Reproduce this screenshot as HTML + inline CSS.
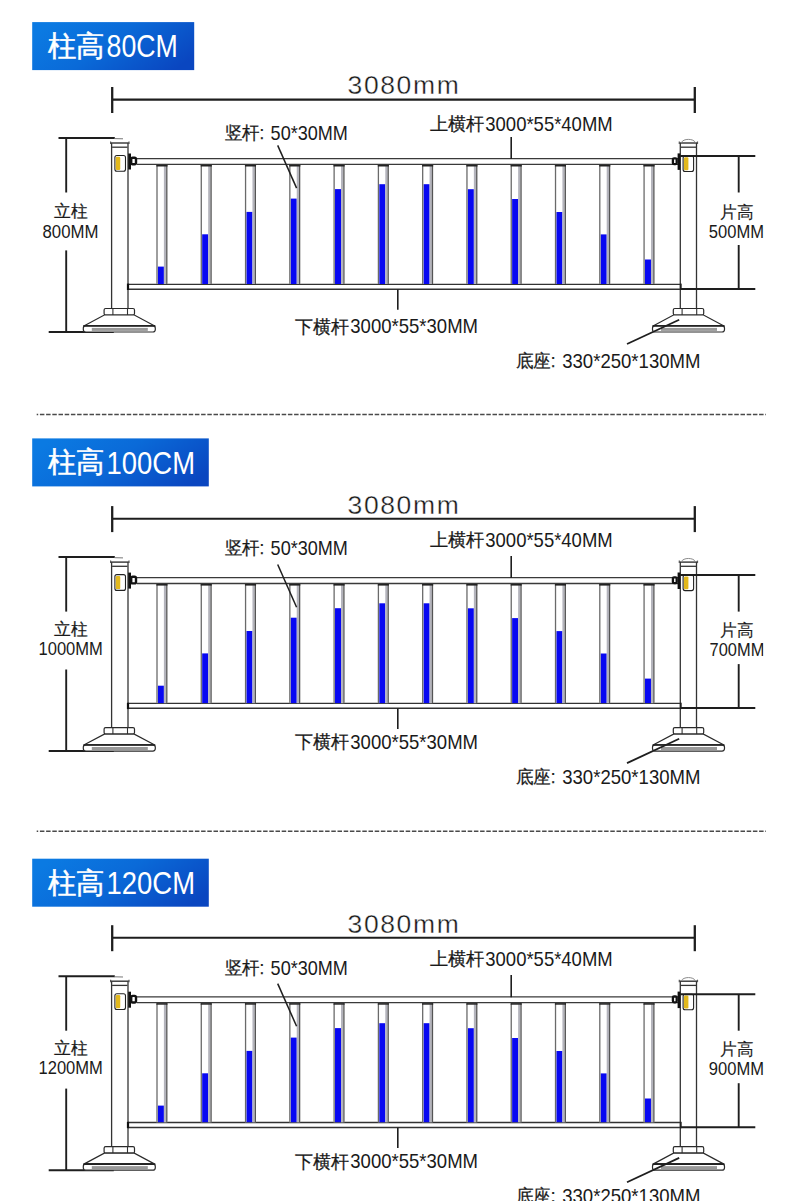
<!DOCTYPE html>
<html><head><meta charset="utf-8"><title>fence</title>
<style>
html,body{margin:0;padding:0;background:#fff;}
body{width:790px;height:1201px;overflow:hidden;font-family:"Liberation Sans",sans-serif;}
svg{display:block;font-family:"Liberation Sans",sans-serif;}
</style></head><body>
<svg width="790" height="1201" viewBox="0 0 790 1201">
<defs><linearGradient id="tg" x1="0" y1="0.3" x2="1" y2="0.7">
<stop offset="0" stop-color="#0b7ae2"/><stop offset="0.45" stop-color="#0a6ad8"/><stop offset="1" stop-color="#0a46c0"/>
</linearGradient></defs>
<rect width="790" height="1201" fill="#fff"/>
<g transform="translate(0 0)">
<line x1="112" y1="99.6" x2="695" y2="99.6" stroke="#1e1e1e" stroke-width="2.1"/>
<line x1="112.2" y1="87" x2="112.2" y2="113" stroke="#1e1e1e" stroke-width="2.3"/>
<line x1="694.8" y1="87" x2="694.8" y2="113" stroke="#1e1e1e" stroke-width="2.3"/>
<text transform="translate(347.6 94.4) scale(1 1)" font-size="26.5" letter-spacing="1.6" fill="#1a1a1a" stroke="#fff" stroke-width="0.35">3080mm</text>
<line x1="58.5" y1="138" x2="114.8" y2="138" stroke="#1e1e1e" stroke-width="2"/>
<line x1="114.5" y1="138.6" x2="123" y2="138.8" stroke="#777" stroke-width="1"/>
<line x1="66.2" y1="138" x2="66.2" y2="192.5" stroke="#1e1e1e" stroke-width="1.9"/>
<line x1="66.2" y1="250.4" x2="66.2" y2="332" stroke="#1e1e1e" stroke-width="1.9"/>
<line x1="48.7" y1="332" x2="113.8" y2="332" stroke="#1e1e1e" stroke-width="2"/>
<rect x="130" y="158.6" width="551" height="5.9" fill="#fff" stroke="none" stroke-width="1"/>
<line x1="137" y1="158.6" x2="680.5" y2="158.6" stroke="#3a3a3a" stroke-width="1.3"/>
<line x1="137" y1="164.4" x2="680.5" y2="164.4" stroke="#3a3a3a" stroke-width="1.3"/>
<line x1="128" y1="284.3" x2="680.5" y2="284.3" stroke="#333" stroke-width="1.3"/>
<line x1="128" y1="289.2" x2="680.5" y2="289.2" stroke="#333" stroke-width="1.5"/>
<rect x="156.4" y="165" width="11" height="119" fill="#fff" stroke="none" stroke-width="1"/>
<rect x="157.9" y="266.6" width="6" height="17.4" fill="#0808f2" stroke="none" stroke-width="1"/>
<rect x="163.9" y="166" width="2.3" height="118" fill="#b4b4bc" stroke="none" stroke-width="1"/>
<line x1="157" y1="165" x2="157" y2="284" stroke="#6a6a6a" stroke-width="1.3"/>
<line x1="166.8" y1="165" x2="166.8" y2="284" stroke="#555" stroke-width="1.3"/>
<line x1="156.4" y1="165.7" x2="167.5" y2="165.7" stroke="#222" stroke-width="1.6"/>
<rect x="200.68" y="165" width="11" height="119" fill="#fff" stroke="none" stroke-width="1"/>
<rect x="202.18" y="234.3" width="6" height="49.7" fill="#0808f2" stroke="none" stroke-width="1"/>
<rect x="208.18" y="166" width="2.3" height="118" fill="#b4b4bc" stroke="none" stroke-width="1"/>
<line x1="201.28" y1="165" x2="201.28" y2="284" stroke="#6a6a6a" stroke-width="1.3"/>
<line x1="211.08" y1="165" x2="211.08" y2="284" stroke="#555" stroke-width="1.3"/>
<line x1="200.68" y1="165.7" x2="211.78" y2="165.7" stroke="#222" stroke-width="1.6"/>
<rect x="244.96" y="165" width="11" height="119" fill="#fff" stroke="none" stroke-width="1"/>
<rect x="246.46" y="211.9" width="6" height="72.1" fill="#0808f2" stroke="none" stroke-width="1"/>
<rect x="252.46" y="166" width="2.3" height="118" fill="#b4b4bc" stroke="none" stroke-width="1"/>
<line x1="245.56" y1="165" x2="245.56" y2="284" stroke="#6a6a6a" stroke-width="1.3"/>
<line x1="255.36" y1="165" x2="255.36" y2="284" stroke="#555" stroke-width="1.3"/>
<line x1="244.96" y1="165.7" x2="256.06" y2="165.7" stroke="#222" stroke-width="1.6"/>
<rect x="289.24" y="165" width="11" height="119" fill="#fff" stroke="none" stroke-width="1"/>
<rect x="290.74" y="198.6" width="6" height="85.4" fill="#0808f2" stroke="none" stroke-width="1"/>
<rect x="296.74" y="166" width="2.3" height="118" fill="#b4b4bc" stroke="none" stroke-width="1"/>
<line x1="289.84" y1="165" x2="289.84" y2="284" stroke="#6a6a6a" stroke-width="1.3"/>
<line x1="299.64" y1="165" x2="299.64" y2="284" stroke="#555" stroke-width="1.3"/>
<line x1="289.24" y1="165.7" x2="300.34" y2="165.7" stroke="#222" stroke-width="1.6"/>
<rect x="333.52" y="165" width="11" height="119" fill="#fff" stroke="none" stroke-width="1"/>
<rect x="335.02" y="189.1" width="6" height="94.9" fill="#0808f2" stroke="none" stroke-width="1"/>
<rect x="341.02" y="166" width="2.3" height="118" fill="#b4b4bc" stroke="none" stroke-width="1"/>
<line x1="334.12" y1="165" x2="334.12" y2="284" stroke="#6a6a6a" stroke-width="1.3"/>
<line x1="343.92" y1="165" x2="343.92" y2="284" stroke="#555" stroke-width="1.3"/>
<line x1="333.52" y1="165.7" x2="344.62" y2="165.7" stroke="#222" stroke-width="1.6"/>
<rect x="377.8" y="165" width="11" height="119" fill="#fff" stroke="none" stroke-width="1"/>
<rect x="379.3" y="184.2" width="6" height="99.8" fill="#0808f2" stroke="none" stroke-width="1"/>
<rect x="385.3" y="166" width="2.3" height="118" fill="#b4b4bc" stroke="none" stroke-width="1"/>
<line x1="378.4" y1="165" x2="378.4" y2="284" stroke="#6a6a6a" stroke-width="1.3"/>
<line x1="388.2" y1="165" x2="388.2" y2="284" stroke="#555" stroke-width="1.3"/>
<line x1="377.8" y1="165.7" x2="388.9" y2="165.7" stroke="#222" stroke-width="1.6"/>
<rect x="422.08" y="165" width="11" height="119" fill="#fff" stroke="none" stroke-width="1"/>
<rect x="423.58" y="184.2" width="6" height="99.8" fill="#0808f2" stroke="none" stroke-width="1"/>
<rect x="429.58" y="166" width="2.3" height="118" fill="#b4b4bc" stroke="none" stroke-width="1"/>
<line x1="422.68" y1="165" x2="422.68" y2="284" stroke="#6a6a6a" stroke-width="1.3"/>
<line x1="432.48" y1="165" x2="432.48" y2="284" stroke="#555" stroke-width="1.3"/>
<line x1="422.08" y1="165.7" x2="433.18" y2="165.7" stroke="#222" stroke-width="1.6"/>
<rect x="466.36" y="165" width="11" height="119" fill="#fff" stroke="none" stroke-width="1"/>
<rect x="467.86" y="189.2" width="6" height="94.8" fill="#0808f2" stroke="none" stroke-width="1"/>
<rect x="473.86" y="166" width="2.3" height="118" fill="#b4b4bc" stroke="none" stroke-width="1"/>
<line x1="466.96" y1="165" x2="466.96" y2="284" stroke="#6a6a6a" stroke-width="1.3"/>
<line x1="476.76" y1="165" x2="476.76" y2="284" stroke="#555" stroke-width="1.3"/>
<line x1="466.36" y1="165.7" x2="477.46" y2="165.7" stroke="#222" stroke-width="1.6"/>
<rect x="510.64" y="165" width="11" height="119" fill="#fff" stroke="none" stroke-width="1"/>
<rect x="512.14" y="199" width="6" height="85" fill="#0808f2" stroke="none" stroke-width="1"/>
<rect x="518.14" y="166" width="2.3" height="118" fill="#b4b4bc" stroke="none" stroke-width="1"/>
<line x1="511.24" y1="165" x2="511.24" y2="284" stroke="#6a6a6a" stroke-width="1.3"/>
<line x1="521.04" y1="165" x2="521.04" y2="284" stroke="#555" stroke-width="1.3"/>
<line x1="510.64" y1="165.7" x2="521.74" y2="165.7" stroke="#222" stroke-width="1.6"/>
<rect x="554.92" y="165" width="11" height="119" fill="#fff" stroke="none" stroke-width="1"/>
<rect x="556.42" y="212" width="6" height="72" fill="#0808f2" stroke="none" stroke-width="1"/>
<rect x="562.42" y="166" width="2.3" height="118" fill="#b4b4bc" stroke="none" stroke-width="1"/>
<line x1="555.52" y1="165" x2="555.52" y2="284" stroke="#6a6a6a" stroke-width="1.3"/>
<line x1="565.32" y1="165" x2="565.32" y2="284" stroke="#555" stroke-width="1.3"/>
<line x1="554.92" y1="165.7" x2="566.02" y2="165.7" stroke="#222" stroke-width="1.6"/>
<rect x="599.2" y="165" width="11" height="119" fill="#fff" stroke="none" stroke-width="1"/>
<rect x="600.7" y="234.4" width="6" height="49.6" fill="#0808f2" stroke="none" stroke-width="1"/>
<rect x="606.7" y="166" width="2.3" height="118" fill="#b4b4bc" stroke="none" stroke-width="1"/>
<line x1="599.8" y1="165" x2="599.8" y2="284" stroke="#6a6a6a" stroke-width="1.3"/>
<line x1="609.6" y1="165" x2="609.6" y2="284" stroke="#555" stroke-width="1.3"/>
<line x1="599.2" y1="165.7" x2="610.3" y2="165.7" stroke="#222" stroke-width="1.6"/>
<rect x="643.48" y="165" width="11" height="119" fill="#fff" stroke="none" stroke-width="1"/>
<rect x="644.98" y="259.5" width="6" height="24.5" fill="#0808f2" stroke="none" stroke-width="1"/>
<rect x="650.98" y="166" width="2.3" height="118" fill="#b4b4bc" stroke="none" stroke-width="1"/>
<line x1="644.08" y1="165" x2="644.08" y2="284" stroke="#6a6a6a" stroke-width="1.3"/>
<line x1="653.88" y1="165" x2="653.88" y2="284" stroke="#555" stroke-width="1.3"/>
<line x1="643.48" y1="165.7" x2="654.58" y2="165.7" stroke="#222" stroke-width="1.6"/>
<rect x="111.6" y="143" width="16.4" height="165.5" fill="#fff" stroke="none" stroke-width="1"/>
<line x1="111.6" y1="143" x2="111.6" y2="308.5" stroke="#333" stroke-width="1.3"/>
<line x1="128" y1="143" x2="128" y2="308.5" stroke="#333" stroke-width="1.3"/>
<line x1="110.6" y1="143" x2="129" y2="143" stroke="#333" stroke-width="1.4"/>
<line x1="112.1" y1="147.2" x2="127.5" y2="147.2" stroke="#333" stroke-width="1.3"/>
<line x1="110.6" y1="141.5" x2="110.6" y2="144" stroke="#555" stroke-width="1.2"/>
<line x1="129" y1="141.5" x2="129" y2="144" stroke="#555" stroke-width="1.2"/>
<rect x="680.3" y="143" width="16.2" height="165.5" fill="#fff" stroke="none" stroke-width="1"/>
<line x1="680.3" y1="143" x2="680.3" y2="308.5" stroke="#333" stroke-width="1.3"/>
<line x1="696.5" y1="143" x2="696.5" y2="308.5" stroke="#333" stroke-width="1.3"/>
<line x1="679.3" y1="143" x2="697.5" y2="143" stroke="#333" stroke-width="1.4"/>
<line x1="680.8" y1="147.2" x2="696" y2="147.2" stroke="#333" stroke-width="1.3"/>
<line x1="679.3" y1="141.5" x2="679.3" y2="144" stroke="#555" stroke-width="1.2"/>
<line x1="697.5" y1="141.5" x2="697.5" y2="144" stroke="#555" stroke-width="1.2"/>
<path d="M681.5 142.6 C682.8 138.3 694 138.3 695.3 142.6" fill="none" stroke="#8a8a8a" stroke-width="1"/>
<rect x="114.9" y="155.5" width="10.6" height="15.8" fill="#fff" stroke="#222" stroke-width="1.1" rx="2"/>
<rect x="115.8" y="156.8" width="4.45" height="13.2" fill="#e2b81c" stroke="none" stroke-width="1" rx="1.2"/>
<rect x="683.1" y="156" width="10.5" height="15.5" fill="#fff" stroke="#222" stroke-width="1.1" rx="2"/>
<rect x="684" y="157.3" width="4.41" height="12.9" fill="#e2b81c" stroke="none" stroke-width="1" rx="1.2"/>
<rect x="128.2" y="153.5" width="2.8" height="16" fill="#111" stroke="none" stroke-width="1"/>
<rect x="131.2" y="157.7" width="4.8" height="6.6" fill="#fff" stroke="#111" stroke-width="2.4" rx="1.5"/>
<rect x="677.6" y="153.4" width="2.7" height="16.5" fill="#111" stroke="none" stroke-width="1"/>
<rect x="672.9" y="158.3" width="3.8" height="5.8" fill="#fff" stroke="#111" stroke-width="2.3" rx="1.2"/>
<line x1="128" y1="283.6" x2="128" y2="290" stroke="#111" stroke-width="2.2"/>
<line x1="680.8" y1="283.6" x2="680.8" y2="290" stroke="#222" stroke-width="1.8"/>
<rect x="104.1" y="308.5" width="30.4" height="6.5" fill="#fff" stroke="#2a2a2a" stroke-width="1.2" rx="1.5"/>
<line x1="112.9" y1="308.5" x2="112.9" y2="315" stroke="#333" stroke-width="1.1"/>
<line x1="127.5" y1="308.5" x2="127.5" y2="315" stroke="#333" stroke-width="1.1"/>
<path d="M104.3 315 L134.3 315 L154.3 325.7 L84.3 325.7 Z" fill="#fff" stroke="#2a2a2a" stroke-width="1.2"/>
<rect x="83.3" y="325.7" width="72" height="6.3" fill="#fff" stroke="#2a2a2a" stroke-width="1.2" rx="2.5"/>
<line x1="83.3" y1="325.9" x2="155.3" y2="325.9" stroke="#222" stroke-width="1.6"/>
<rect x="91.8" y="327.9" width="56" height="3" fill="#999" stroke="none" stroke-width="1"/>
<rect x="673.3" y="308.5" width="30.4" height="6.5" fill="#fff" stroke="#2a2a2a" stroke-width="1.2" rx="1.5"/>
<line x1="682.1" y1="308.5" x2="682.1" y2="315" stroke="#333" stroke-width="1.1"/>
<line x1="696.7" y1="308.5" x2="696.7" y2="315" stroke="#333" stroke-width="1.1"/>
<path d="M673.5 315 L703.5 315 L723.5 325.7 L653.5 325.7 Z" fill="#fff" stroke="#2a2a2a" stroke-width="1.2"/>
<rect x="652.5" y="325.7" width="72" height="6.3" fill="#fff" stroke="#2a2a2a" stroke-width="1.2" rx="2.5"/>
<line x1="652.5" y1="325.9" x2="724.5" y2="325.9" stroke="#222" stroke-width="1.6"/>
<rect x="661" y="327.9" width="56" height="3" fill="#999" stroke="none" stroke-width="1"/>
<line x1="680" y1="156" x2="755.3" y2="156" stroke="#1e1e1e" stroke-width="2"/>
<line x1="738.7" y1="156" x2="738.7" y2="192.5" stroke="#1e1e1e" stroke-width="1.9"/>
<line x1="738.7" y1="245" x2="738.7" y2="289" stroke="#1e1e1e" stroke-width="1.9"/>
<line x1="680" y1="289" x2="755.3" y2="289" stroke="#1e1e1e" stroke-width="2"/>
<line x1="277.7" y1="145.4" x2="296.6" y2="188.1" stroke="#1e1e1e" stroke-width="1.5"/>
<line x1="511.2" y1="136.9" x2="511.2" y2="159" stroke="#1e1e1e" stroke-width="1.6"/>
<line x1="397.8" y1="289.5" x2="397.8" y2="309.8" stroke="#1e1e1e" stroke-width="1.6"/>
<line x1="627" y1="344" x2="679.2" y2="319.7" stroke="#1e1e1e" stroke-width="1.8"/>
<text x="224.6" y="138.6" font-size="17.5" fill="#1a1a1a" stroke="#1a1a1a" stroke-width="0.25" textLength="39.6" lengthAdjust="spacingAndGlyphs">竖杆:</text>
<text x="270.6" y="139.7" font-size="19.8" fill="#1a1a1a" textLength="77.3" lengthAdjust="spacingAndGlyphs">50*30MM</text>
<text x="429.6" y="130.4" font-size="17.5" fill="#1a1a1a" stroke="#1a1a1a" stroke-width="0.25" textLength="54.6" lengthAdjust="spacingAndGlyphs">上横杆</text>
<text x="485.3" y="131.3" font-size="19.8" fill="#1a1a1a" textLength="127.4" lengthAdjust="spacingAndGlyphs">3000*55*40MM</text>
<text x="295.1" y="332.6" font-size="17.5" fill="#1a1a1a" stroke="#1a1a1a" stroke-width="0.25" textLength="54.1" lengthAdjust="spacingAndGlyphs">下横杆</text>
<text x="350.3" y="333.4" font-size="19.8" fill="#1a1a1a" textLength="127.7" lengthAdjust="spacingAndGlyphs">3000*55*30MM</text>
<text x="515.6" y="367.4" font-size="17.5" fill="#1a1a1a" stroke="#1a1a1a" stroke-width="0.25" textLength="40" lengthAdjust="spacingAndGlyphs">底座:</text>
<text x="562.2" y="368.3" font-size="19.8" fill="#1a1a1a" textLength="138.3" lengthAdjust="spacingAndGlyphs">330*250*130MM</text>
<text x="53.9" y="217.4" font-size="16.5" fill="#1a1a1a" stroke="#1a1a1a" stroke-width="0.2" textLength="33.6" lengthAdjust="spacingAndGlyphs">立柱</text>
<text x="42.5" y="237.8" font-size="17.6" fill="#1a1a1a" textLength="55.9" lengthAdjust="spacingAndGlyphs">800MM</text>
<text x="720.2" y="218.2" font-size="16.5" fill="#1a1a1a" stroke="#1a1a1a" stroke-width="0.15" textLength="33.4" lengthAdjust="spacingAndGlyphs">片高</text>
<text x="708.8" y="238.1" font-size="17.6" fill="#1a1a1a" textLength="55.2" lengthAdjust="spacingAndGlyphs">500MM</text>
</g>
<rect x="32.2" y="22.1" width="162" height="48" fill="url(#tg)" stroke="none" stroke-width="1"/>
<text x="47.8" y="55.9" font-size="29.2" fill="#fff" stroke="#fff" stroke-width="0.5" textLength="56.8" lengthAdjust="spacingAndGlyphs">柱高</text>
<text x="106.6" y="57.3" font-size="31" fill="#fff" textLength="71.2" lengthAdjust="spacingAndGlyphs">80CM</text>
<line x1="36.7" y1="414.4" x2="766" y2="414.4" stroke="#4a4a4a" stroke-width="1.5" stroke-dasharray="4.5 1.7" stroke-dashoffset="3"/>
<g transform="translate(0 419.1)">
<line x1="112" y1="99.6" x2="695" y2="99.6" stroke="#1e1e1e" stroke-width="2.1"/>
<line x1="112.2" y1="87" x2="112.2" y2="113" stroke="#1e1e1e" stroke-width="2.3"/>
<line x1="694.8" y1="87" x2="694.8" y2="113" stroke="#1e1e1e" stroke-width="2.3"/>
<text transform="translate(347.6 94.4) scale(1 1)" font-size="26.5" letter-spacing="1.6" fill="#1a1a1a" stroke="#fff" stroke-width="0.35">3080mm</text>
<line x1="58.5" y1="138" x2="114.8" y2="138" stroke="#1e1e1e" stroke-width="2"/>
<line x1="114.5" y1="138.6" x2="123" y2="138.8" stroke="#777" stroke-width="1"/>
<line x1="66.2" y1="138" x2="66.2" y2="192.5" stroke="#1e1e1e" stroke-width="1.9"/>
<line x1="66.2" y1="250.4" x2="66.2" y2="332" stroke="#1e1e1e" stroke-width="1.9"/>
<line x1="48.7" y1="332" x2="113.8" y2="332" stroke="#1e1e1e" stroke-width="2"/>
<rect x="130" y="158.6" width="551" height="5.9" fill="#fff" stroke="none" stroke-width="1"/>
<line x1="137" y1="158.6" x2="680.5" y2="158.6" stroke="#3a3a3a" stroke-width="1.3"/>
<line x1="137" y1="164.4" x2="680.5" y2="164.4" stroke="#3a3a3a" stroke-width="1.3"/>
<line x1="128" y1="284.3" x2="680.5" y2="284.3" stroke="#333" stroke-width="1.3"/>
<line x1="128" y1="289.2" x2="680.5" y2="289.2" stroke="#333" stroke-width="1.5"/>
<rect x="156.4" y="165" width="11" height="119" fill="#fff" stroke="none" stroke-width="1"/>
<rect x="157.9" y="266.6" width="6" height="17.4" fill="#0808f2" stroke="none" stroke-width="1"/>
<rect x="163.9" y="166" width="2.3" height="118" fill="#b4b4bc" stroke="none" stroke-width="1"/>
<line x1="157" y1="165" x2="157" y2="284" stroke="#6a6a6a" stroke-width="1.3"/>
<line x1="166.8" y1="165" x2="166.8" y2="284" stroke="#555" stroke-width="1.3"/>
<line x1="156.4" y1="165.7" x2="167.5" y2="165.7" stroke="#222" stroke-width="1.6"/>
<rect x="200.68" y="165" width="11" height="119" fill="#fff" stroke="none" stroke-width="1"/>
<rect x="202.18" y="234.3" width="6" height="49.7" fill="#0808f2" stroke="none" stroke-width="1"/>
<rect x="208.18" y="166" width="2.3" height="118" fill="#b4b4bc" stroke="none" stroke-width="1"/>
<line x1="201.28" y1="165" x2="201.28" y2="284" stroke="#6a6a6a" stroke-width="1.3"/>
<line x1="211.08" y1="165" x2="211.08" y2="284" stroke="#555" stroke-width="1.3"/>
<line x1="200.68" y1="165.7" x2="211.78" y2="165.7" stroke="#222" stroke-width="1.6"/>
<rect x="244.96" y="165" width="11" height="119" fill="#fff" stroke="none" stroke-width="1"/>
<rect x="246.46" y="211.9" width="6" height="72.1" fill="#0808f2" stroke="none" stroke-width="1"/>
<rect x="252.46" y="166" width="2.3" height="118" fill="#b4b4bc" stroke="none" stroke-width="1"/>
<line x1="245.56" y1="165" x2="245.56" y2="284" stroke="#6a6a6a" stroke-width="1.3"/>
<line x1="255.36" y1="165" x2="255.36" y2="284" stroke="#555" stroke-width="1.3"/>
<line x1="244.96" y1="165.7" x2="256.06" y2="165.7" stroke="#222" stroke-width="1.6"/>
<rect x="289.24" y="165" width="11" height="119" fill="#fff" stroke="none" stroke-width="1"/>
<rect x="290.74" y="198.6" width="6" height="85.4" fill="#0808f2" stroke="none" stroke-width="1"/>
<rect x="296.74" y="166" width="2.3" height="118" fill="#b4b4bc" stroke="none" stroke-width="1"/>
<line x1="289.84" y1="165" x2="289.84" y2="284" stroke="#6a6a6a" stroke-width="1.3"/>
<line x1="299.64" y1="165" x2="299.64" y2="284" stroke="#555" stroke-width="1.3"/>
<line x1="289.24" y1="165.7" x2="300.34" y2="165.7" stroke="#222" stroke-width="1.6"/>
<rect x="333.52" y="165" width="11" height="119" fill="#fff" stroke="none" stroke-width="1"/>
<rect x="335.02" y="189.1" width="6" height="94.9" fill="#0808f2" stroke="none" stroke-width="1"/>
<rect x="341.02" y="166" width="2.3" height="118" fill="#b4b4bc" stroke="none" stroke-width="1"/>
<line x1="334.12" y1="165" x2="334.12" y2="284" stroke="#6a6a6a" stroke-width="1.3"/>
<line x1="343.92" y1="165" x2="343.92" y2="284" stroke="#555" stroke-width="1.3"/>
<line x1="333.52" y1="165.7" x2="344.62" y2="165.7" stroke="#222" stroke-width="1.6"/>
<rect x="377.8" y="165" width="11" height="119" fill="#fff" stroke="none" stroke-width="1"/>
<rect x="379.3" y="184.2" width="6" height="99.8" fill="#0808f2" stroke="none" stroke-width="1"/>
<rect x="385.3" y="166" width="2.3" height="118" fill="#b4b4bc" stroke="none" stroke-width="1"/>
<line x1="378.4" y1="165" x2="378.4" y2="284" stroke="#6a6a6a" stroke-width="1.3"/>
<line x1="388.2" y1="165" x2="388.2" y2="284" stroke="#555" stroke-width="1.3"/>
<line x1="377.8" y1="165.7" x2="388.9" y2="165.7" stroke="#222" stroke-width="1.6"/>
<rect x="422.08" y="165" width="11" height="119" fill="#fff" stroke="none" stroke-width="1"/>
<rect x="423.58" y="184.2" width="6" height="99.8" fill="#0808f2" stroke="none" stroke-width="1"/>
<rect x="429.58" y="166" width="2.3" height="118" fill="#b4b4bc" stroke="none" stroke-width="1"/>
<line x1="422.68" y1="165" x2="422.68" y2="284" stroke="#6a6a6a" stroke-width="1.3"/>
<line x1="432.48" y1="165" x2="432.48" y2="284" stroke="#555" stroke-width="1.3"/>
<line x1="422.08" y1="165.7" x2="433.18" y2="165.7" stroke="#222" stroke-width="1.6"/>
<rect x="466.36" y="165" width="11" height="119" fill="#fff" stroke="none" stroke-width="1"/>
<rect x="467.86" y="189.2" width="6" height="94.8" fill="#0808f2" stroke="none" stroke-width="1"/>
<rect x="473.86" y="166" width="2.3" height="118" fill="#b4b4bc" stroke="none" stroke-width="1"/>
<line x1="466.96" y1="165" x2="466.96" y2="284" stroke="#6a6a6a" stroke-width="1.3"/>
<line x1="476.76" y1="165" x2="476.76" y2="284" stroke="#555" stroke-width="1.3"/>
<line x1="466.36" y1="165.7" x2="477.46" y2="165.7" stroke="#222" stroke-width="1.6"/>
<rect x="510.64" y="165" width="11" height="119" fill="#fff" stroke="none" stroke-width="1"/>
<rect x="512.14" y="199" width="6" height="85" fill="#0808f2" stroke="none" stroke-width="1"/>
<rect x="518.14" y="166" width="2.3" height="118" fill="#b4b4bc" stroke="none" stroke-width="1"/>
<line x1="511.24" y1="165" x2="511.24" y2="284" stroke="#6a6a6a" stroke-width="1.3"/>
<line x1="521.04" y1="165" x2="521.04" y2="284" stroke="#555" stroke-width="1.3"/>
<line x1="510.64" y1="165.7" x2="521.74" y2="165.7" stroke="#222" stroke-width="1.6"/>
<rect x="554.92" y="165" width="11" height="119" fill="#fff" stroke="none" stroke-width="1"/>
<rect x="556.42" y="212" width="6" height="72" fill="#0808f2" stroke="none" stroke-width="1"/>
<rect x="562.42" y="166" width="2.3" height="118" fill="#b4b4bc" stroke="none" stroke-width="1"/>
<line x1="555.52" y1="165" x2="555.52" y2="284" stroke="#6a6a6a" stroke-width="1.3"/>
<line x1="565.32" y1="165" x2="565.32" y2="284" stroke="#555" stroke-width="1.3"/>
<line x1="554.92" y1="165.7" x2="566.02" y2="165.7" stroke="#222" stroke-width="1.6"/>
<rect x="599.2" y="165" width="11" height="119" fill="#fff" stroke="none" stroke-width="1"/>
<rect x="600.7" y="234.4" width="6" height="49.6" fill="#0808f2" stroke="none" stroke-width="1"/>
<rect x="606.7" y="166" width="2.3" height="118" fill="#b4b4bc" stroke="none" stroke-width="1"/>
<line x1="599.8" y1="165" x2="599.8" y2="284" stroke="#6a6a6a" stroke-width="1.3"/>
<line x1="609.6" y1="165" x2="609.6" y2="284" stroke="#555" stroke-width="1.3"/>
<line x1="599.2" y1="165.7" x2="610.3" y2="165.7" stroke="#222" stroke-width="1.6"/>
<rect x="643.48" y="165" width="11" height="119" fill="#fff" stroke="none" stroke-width="1"/>
<rect x="644.98" y="259.5" width="6" height="24.5" fill="#0808f2" stroke="none" stroke-width="1"/>
<rect x="650.98" y="166" width="2.3" height="118" fill="#b4b4bc" stroke="none" stroke-width="1"/>
<line x1="644.08" y1="165" x2="644.08" y2="284" stroke="#6a6a6a" stroke-width="1.3"/>
<line x1="653.88" y1="165" x2="653.88" y2="284" stroke="#555" stroke-width="1.3"/>
<line x1="643.48" y1="165.7" x2="654.58" y2="165.7" stroke="#222" stroke-width="1.6"/>
<rect x="111.6" y="143" width="16.4" height="165.5" fill="#fff" stroke="none" stroke-width="1"/>
<line x1="111.6" y1="143" x2="111.6" y2="308.5" stroke="#333" stroke-width="1.3"/>
<line x1="128" y1="143" x2="128" y2="308.5" stroke="#333" stroke-width="1.3"/>
<line x1="110.6" y1="143" x2="129" y2="143" stroke="#333" stroke-width="1.4"/>
<line x1="112.1" y1="147.2" x2="127.5" y2="147.2" stroke="#333" stroke-width="1.3"/>
<line x1="110.6" y1="141.5" x2="110.6" y2="144" stroke="#555" stroke-width="1.2"/>
<line x1="129" y1="141.5" x2="129" y2="144" stroke="#555" stroke-width="1.2"/>
<rect x="680.3" y="143" width="16.2" height="165.5" fill="#fff" stroke="none" stroke-width="1"/>
<line x1="680.3" y1="143" x2="680.3" y2="308.5" stroke="#333" stroke-width="1.3"/>
<line x1="696.5" y1="143" x2="696.5" y2="308.5" stroke="#333" stroke-width="1.3"/>
<line x1="679.3" y1="143" x2="697.5" y2="143" stroke="#333" stroke-width="1.4"/>
<line x1="680.8" y1="147.2" x2="696" y2="147.2" stroke="#333" stroke-width="1.3"/>
<line x1="679.3" y1="141.5" x2="679.3" y2="144" stroke="#555" stroke-width="1.2"/>
<line x1="697.5" y1="141.5" x2="697.5" y2="144" stroke="#555" stroke-width="1.2"/>
<path d="M681.5 142.6 C682.8 138.3 694 138.3 695.3 142.6" fill="none" stroke="#8a8a8a" stroke-width="1"/>
<rect x="114.9" y="155.5" width="10.6" height="15.8" fill="#fff" stroke="#222" stroke-width="1.1" rx="2"/>
<rect x="115.8" y="156.8" width="4.45" height="13.2" fill="#e2b81c" stroke="none" stroke-width="1" rx="1.2"/>
<rect x="683.1" y="156" width="10.5" height="15.5" fill="#fff" stroke="#222" stroke-width="1.1" rx="2"/>
<rect x="684" y="157.3" width="4.41" height="12.9" fill="#e2b81c" stroke="none" stroke-width="1" rx="1.2"/>
<rect x="128.2" y="153.5" width="2.8" height="16" fill="#111" stroke="none" stroke-width="1"/>
<rect x="131.2" y="157.7" width="4.8" height="6.6" fill="#fff" stroke="#111" stroke-width="2.4" rx="1.5"/>
<rect x="677.6" y="153.4" width="2.7" height="16.5" fill="#111" stroke="none" stroke-width="1"/>
<rect x="672.9" y="158.3" width="3.8" height="5.8" fill="#fff" stroke="#111" stroke-width="2.3" rx="1.2"/>
<line x1="128" y1="283.6" x2="128" y2="290" stroke="#111" stroke-width="2.2"/>
<line x1="680.8" y1="283.6" x2="680.8" y2="290" stroke="#222" stroke-width="1.8"/>
<rect x="104.1" y="308.5" width="30.4" height="6.5" fill="#fff" stroke="#2a2a2a" stroke-width="1.2" rx="1.5"/>
<line x1="112.9" y1="308.5" x2="112.9" y2="315" stroke="#333" stroke-width="1.1"/>
<line x1="127.5" y1="308.5" x2="127.5" y2="315" stroke="#333" stroke-width="1.1"/>
<path d="M104.3 315 L134.3 315 L154.3 325.7 L84.3 325.7 Z" fill="#fff" stroke="#2a2a2a" stroke-width="1.2"/>
<rect x="83.3" y="325.7" width="72" height="6.3" fill="#fff" stroke="#2a2a2a" stroke-width="1.2" rx="2.5"/>
<line x1="83.3" y1="325.9" x2="155.3" y2="325.9" stroke="#222" stroke-width="1.6"/>
<rect x="91.8" y="327.9" width="56" height="3" fill="#999" stroke="none" stroke-width="1"/>
<rect x="673.3" y="308.5" width="30.4" height="6.5" fill="#fff" stroke="#2a2a2a" stroke-width="1.2" rx="1.5"/>
<line x1="682.1" y1="308.5" x2="682.1" y2="315" stroke="#333" stroke-width="1.1"/>
<line x1="696.7" y1="308.5" x2="696.7" y2="315" stroke="#333" stroke-width="1.1"/>
<path d="M673.5 315 L703.5 315 L723.5 325.7 L653.5 325.7 Z" fill="#fff" stroke="#2a2a2a" stroke-width="1.2"/>
<rect x="652.5" y="325.7" width="72" height="6.3" fill="#fff" stroke="#2a2a2a" stroke-width="1.2" rx="2.5"/>
<line x1="652.5" y1="325.9" x2="724.5" y2="325.9" stroke="#222" stroke-width="1.6"/>
<rect x="661" y="327.9" width="56" height="3" fill="#999" stroke="none" stroke-width="1"/>
<line x1="680" y1="156" x2="755.3" y2="156" stroke="#1e1e1e" stroke-width="2"/>
<line x1="738.7" y1="156" x2="738.7" y2="192.5" stroke="#1e1e1e" stroke-width="1.9"/>
<line x1="738.7" y1="245" x2="738.7" y2="289" stroke="#1e1e1e" stroke-width="1.9"/>
<line x1="680" y1="289" x2="755.3" y2="289" stroke="#1e1e1e" stroke-width="2"/>
<line x1="277.7" y1="145.4" x2="296.6" y2="188.1" stroke="#1e1e1e" stroke-width="1.5"/>
<line x1="511.2" y1="136.9" x2="511.2" y2="159" stroke="#1e1e1e" stroke-width="1.6"/>
<line x1="397.8" y1="289.5" x2="397.8" y2="309.8" stroke="#1e1e1e" stroke-width="1.6"/>
<line x1="627" y1="344" x2="679.2" y2="319.7" stroke="#1e1e1e" stroke-width="1.8"/>
<text x="224.6" y="135.2" font-size="17.5" fill="#1a1a1a" stroke="#1a1a1a" stroke-width="0.25" textLength="39.6" lengthAdjust="spacingAndGlyphs">竖杆:</text>
<text x="270.6" y="136.3" font-size="19.8" fill="#1a1a1a" textLength="77.3" lengthAdjust="spacingAndGlyphs">50*30MM</text>
<text x="429.6" y="127" font-size="17.5" fill="#1a1a1a" stroke="#1a1a1a" stroke-width="0.25" textLength="54.6" lengthAdjust="spacingAndGlyphs">上横杆</text>
<text x="485.3" y="127.9" font-size="19.8" fill="#1a1a1a" textLength="127.4" lengthAdjust="spacingAndGlyphs">3000*55*40MM</text>
<text x="295.1" y="329.2" font-size="17.5" fill="#1a1a1a" stroke="#1a1a1a" stroke-width="0.25" textLength="54.1" lengthAdjust="spacingAndGlyphs">下横杆</text>
<text x="350.3" y="330" font-size="19.8" fill="#1a1a1a" textLength="127.7" lengthAdjust="spacingAndGlyphs">3000*55*30MM</text>
<text x="515.6" y="364" font-size="17.5" fill="#1a1a1a" stroke="#1a1a1a" stroke-width="0.25" textLength="40" lengthAdjust="spacingAndGlyphs">底座:</text>
<text x="562.2" y="364.9" font-size="19.8" fill="#1a1a1a" textLength="138.3" lengthAdjust="spacingAndGlyphs">330*250*130MM</text>
<text x="53.9" y="216" font-size="16.5" fill="#1a1a1a" stroke="#1a1a1a" stroke-width="0.2" textLength="33.6" lengthAdjust="spacingAndGlyphs">立柱</text>
<text x="38.5" y="236.4" font-size="17.6" fill="#1a1a1a" textLength="64.4" lengthAdjust="spacingAndGlyphs">1000MM</text>
<text x="720.2" y="216.8" font-size="16.5" fill="#1a1a1a" stroke="#1a1a1a" stroke-width="0.15" textLength="33.4" lengthAdjust="spacingAndGlyphs">片高</text>
<text x="709.6" y="236.7" font-size="17.6" fill="#1a1a1a" textLength="54.7" lengthAdjust="spacingAndGlyphs">700MM</text>
</g>
<rect x="32.2" y="438.4" width="176.6" height="48" fill="url(#tg)" stroke="none" stroke-width="1"/>
<text x="47.8" y="472.2" font-size="29.2" fill="#fff" stroke="#fff" stroke-width="0.5" textLength="56.8" lengthAdjust="spacingAndGlyphs">柱高</text>
<text x="106.6" y="473.6" font-size="31" fill="#fff" textLength="88.4" lengthAdjust="spacingAndGlyphs">100CM</text>
<line x1="36.7" y1="831.3" x2="766" y2="831.3" stroke="#4a4a4a" stroke-width="1.5" stroke-dasharray="4.5 1.7" stroke-dashoffset="3"/>
<g transform="translate(0 838.2)">
<line x1="112" y1="99.6" x2="695" y2="99.6" stroke="#1e1e1e" stroke-width="2.1"/>
<line x1="112.2" y1="87" x2="112.2" y2="113" stroke="#1e1e1e" stroke-width="2.3"/>
<line x1="694.8" y1="87" x2="694.8" y2="113" stroke="#1e1e1e" stroke-width="2.3"/>
<text transform="translate(347.6 94.4) scale(1 1)" font-size="26.5" letter-spacing="1.6" fill="#1a1a1a" stroke="#fff" stroke-width="0.35">3080mm</text>
<line x1="58.5" y1="138" x2="114.8" y2="138" stroke="#1e1e1e" stroke-width="2"/>
<line x1="114.5" y1="138.6" x2="123" y2="138.8" stroke="#777" stroke-width="1"/>
<line x1="66.2" y1="138" x2="66.2" y2="192.5" stroke="#1e1e1e" stroke-width="1.9"/>
<line x1="66.2" y1="250.4" x2="66.2" y2="332" stroke="#1e1e1e" stroke-width="1.9"/>
<line x1="48.7" y1="332" x2="113.8" y2="332" stroke="#1e1e1e" stroke-width="2"/>
<rect x="130" y="158.6" width="551" height="5.9" fill="#fff" stroke="none" stroke-width="1"/>
<line x1="137" y1="158.6" x2="680.5" y2="158.6" stroke="#3a3a3a" stroke-width="1.3"/>
<line x1="137" y1="164.4" x2="680.5" y2="164.4" stroke="#3a3a3a" stroke-width="1.3"/>
<line x1="128" y1="284.3" x2="680.5" y2="284.3" stroke="#333" stroke-width="1.3"/>
<line x1="128" y1="289.2" x2="680.5" y2="289.2" stroke="#333" stroke-width="1.5"/>
<rect x="156.4" y="165" width="11" height="119" fill="#fff" stroke="none" stroke-width="1"/>
<rect x="157.9" y="267.4" width="6" height="16.6" fill="#0808f2" stroke="none" stroke-width="1"/>
<rect x="163.9" y="166" width="2.3" height="118" fill="#b4b4bc" stroke="none" stroke-width="1"/>
<line x1="157" y1="165" x2="157" y2="284" stroke="#6a6a6a" stroke-width="1.3"/>
<line x1="166.8" y1="165" x2="166.8" y2="284" stroke="#555" stroke-width="1.3"/>
<line x1="156.4" y1="165.7" x2="167.5" y2="165.7" stroke="#222" stroke-width="1.6"/>
<rect x="200.68" y="165" width="11" height="119" fill="#fff" stroke="none" stroke-width="1"/>
<rect x="202.18" y="235.1" width="6" height="48.9" fill="#0808f2" stroke="none" stroke-width="1"/>
<rect x="208.18" y="166" width="2.3" height="118" fill="#b4b4bc" stroke="none" stroke-width="1"/>
<line x1="201.28" y1="165" x2="201.28" y2="284" stroke="#6a6a6a" stroke-width="1.3"/>
<line x1="211.08" y1="165" x2="211.08" y2="284" stroke="#555" stroke-width="1.3"/>
<line x1="200.68" y1="165.7" x2="211.78" y2="165.7" stroke="#222" stroke-width="1.6"/>
<rect x="244.96" y="165" width="11" height="119" fill="#fff" stroke="none" stroke-width="1"/>
<rect x="246.46" y="212.7" width="6" height="71.3" fill="#0808f2" stroke="none" stroke-width="1"/>
<rect x="252.46" y="166" width="2.3" height="118" fill="#b4b4bc" stroke="none" stroke-width="1"/>
<line x1="245.56" y1="165" x2="245.56" y2="284" stroke="#6a6a6a" stroke-width="1.3"/>
<line x1="255.36" y1="165" x2="255.36" y2="284" stroke="#555" stroke-width="1.3"/>
<line x1="244.96" y1="165.7" x2="256.06" y2="165.7" stroke="#222" stroke-width="1.6"/>
<rect x="289.24" y="165" width="11" height="119" fill="#fff" stroke="none" stroke-width="1"/>
<rect x="290.74" y="199.4" width="6" height="84.6" fill="#0808f2" stroke="none" stroke-width="1"/>
<rect x="296.74" y="166" width="2.3" height="118" fill="#b4b4bc" stroke="none" stroke-width="1"/>
<line x1="289.84" y1="165" x2="289.84" y2="284" stroke="#6a6a6a" stroke-width="1.3"/>
<line x1="299.64" y1="165" x2="299.64" y2="284" stroke="#555" stroke-width="1.3"/>
<line x1="289.24" y1="165.7" x2="300.34" y2="165.7" stroke="#222" stroke-width="1.6"/>
<rect x="333.52" y="165" width="11" height="119" fill="#fff" stroke="none" stroke-width="1"/>
<rect x="335.02" y="189.9" width="6" height="94.1" fill="#0808f2" stroke="none" stroke-width="1"/>
<rect x="341.02" y="166" width="2.3" height="118" fill="#b4b4bc" stroke="none" stroke-width="1"/>
<line x1="334.12" y1="165" x2="334.12" y2="284" stroke="#6a6a6a" stroke-width="1.3"/>
<line x1="343.92" y1="165" x2="343.92" y2="284" stroke="#555" stroke-width="1.3"/>
<line x1="333.52" y1="165.7" x2="344.62" y2="165.7" stroke="#222" stroke-width="1.6"/>
<rect x="377.8" y="165" width="11" height="119" fill="#fff" stroke="none" stroke-width="1"/>
<rect x="379.3" y="185" width="6" height="99" fill="#0808f2" stroke="none" stroke-width="1"/>
<rect x="385.3" y="166" width="2.3" height="118" fill="#b4b4bc" stroke="none" stroke-width="1"/>
<line x1="378.4" y1="165" x2="378.4" y2="284" stroke="#6a6a6a" stroke-width="1.3"/>
<line x1="388.2" y1="165" x2="388.2" y2="284" stroke="#555" stroke-width="1.3"/>
<line x1="377.8" y1="165.7" x2="388.9" y2="165.7" stroke="#222" stroke-width="1.6"/>
<rect x="422.08" y="165" width="11" height="119" fill="#fff" stroke="none" stroke-width="1"/>
<rect x="423.58" y="185" width="6" height="99" fill="#0808f2" stroke="none" stroke-width="1"/>
<rect x="429.58" y="166" width="2.3" height="118" fill="#b4b4bc" stroke="none" stroke-width="1"/>
<line x1="422.68" y1="165" x2="422.68" y2="284" stroke="#6a6a6a" stroke-width="1.3"/>
<line x1="432.48" y1="165" x2="432.48" y2="284" stroke="#555" stroke-width="1.3"/>
<line x1="422.08" y1="165.7" x2="433.18" y2="165.7" stroke="#222" stroke-width="1.6"/>
<rect x="466.36" y="165" width="11" height="119" fill="#fff" stroke="none" stroke-width="1"/>
<rect x="467.86" y="190" width="6" height="94" fill="#0808f2" stroke="none" stroke-width="1"/>
<rect x="473.86" y="166" width="2.3" height="118" fill="#b4b4bc" stroke="none" stroke-width="1"/>
<line x1="466.96" y1="165" x2="466.96" y2="284" stroke="#6a6a6a" stroke-width="1.3"/>
<line x1="476.76" y1="165" x2="476.76" y2="284" stroke="#555" stroke-width="1.3"/>
<line x1="466.36" y1="165.7" x2="477.46" y2="165.7" stroke="#222" stroke-width="1.6"/>
<rect x="510.64" y="165" width="11" height="119" fill="#fff" stroke="none" stroke-width="1"/>
<rect x="512.14" y="199.8" width="6" height="84.2" fill="#0808f2" stroke="none" stroke-width="1"/>
<rect x="518.14" y="166" width="2.3" height="118" fill="#b4b4bc" stroke="none" stroke-width="1"/>
<line x1="511.24" y1="165" x2="511.24" y2="284" stroke="#6a6a6a" stroke-width="1.3"/>
<line x1="521.04" y1="165" x2="521.04" y2="284" stroke="#555" stroke-width="1.3"/>
<line x1="510.64" y1="165.7" x2="521.74" y2="165.7" stroke="#222" stroke-width="1.6"/>
<rect x="554.92" y="165" width="11" height="119" fill="#fff" stroke="none" stroke-width="1"/>
<rect x="556.42" y="212.8" width="6" height="71.2" fill="#0808f2" stroke="none" stroke-width="1"/>
<rect x="562.42" y="166" width="2.3" height="118" fill="#b4b4bc" stroke="none" stroke-width="1"/>
<line x1="555.52" y1="165" x2="555.52" y2="284" stroke="#6a6a6a" stroke-width="1.3"/>
<line x1="565.32" y1="165" x2="565.32" y2="284" stroke="#555" stroke-width="1.3"/>
<line x1="554.92" y1="165.7" x2="566.02" y2="165.7" stroke="#222" stroke-width="1.6"/>
<rect x="599.2" y="165" width="11" height="119" fill="#fff" stroke="none" stroke-width="1"/>
<rect x="600.7" y="235.2" width="6" height="48.8" fill="#0808f2" stroke="none" stroke-width="1"/>
<rect x="606.7" y="166" width="2.3" height="118" fill="#b4b4bc" stroke="none" stroke-width="1"/>
<line x1="599.8" y1="165" x2="599.8" y2="284" stroke="#6a6a6a" stroke-width="1.3"/>
<line x1="609.6" y1="165" x2="609.6" y2="284" stroke="#555" stroke-width="1.3"/>
<line x1="599.2" y1="165.7" x2="610.3" y2="165.7" stroke="#222" stroke-width="1.6"/>
<rect x="643.48" y="165" width="11" height="119" fill="#fff" stroke="none" stroke-width="1"/>
<rect x="644.98" y="260.3" width="6" height="23.7" fill="#0808f2" stroke="none" stroke-width="1"/>
<rect x="650.98" y="166" width="2.3" height="118" fill="#b4b4bc" stroke="none" stroke-width="1"/>
<line x1="644.08" y1="165" x2="644.08" y2="284" stroke="#6a6a6a" stroke-width="1.3"/>
<line x1="653.88" y1="165" x2="653.88" y2="284" stroke="#555" stroke-width="1.3"/>
<line x1="643.48" y1="165.7" x2="654.58" y2="165.7" stroke="#222" stroke-width="1.6"/>
<rect x="111.6" y="143" width="16.4" height="165.5" fill="#fff" stroke="none" stroke-width="1"/>
<line x1="111.6" y1="143" x2="111.6" y2="308.5" stroke="#333" stroke-width="1.3"/>
<line x1="128" y1="143" x2="128" y2="308.5" stroke="#333" stroke-width="1.3"/>
<line x1="110.6" y1="143" x2="129" y2="143" stroke="#333" stroke-width="1.4"/>
<line x1="112.1" y1="147.2" x2="127.5" y2="147.2" stroke="#333" stroke-width="1.3"/>
<line x1="110.6" y1="141.5" x2="110.6" y2="144" stroke="#555" stroke-width="1.2"/>
<line x1="129" y1="141.5" x2="129" y2="144" stroke="#555" stroke-width="1.2"/>
<rect x="680.3" y="143" width="16.2" height="165.5" fill="#fff" stroke="none" stroke-width="1"/>
<line x1="680.3" y1="143" x2="680.3" y2="308.5" stroke="#333" stroke-width="1.3"/>
<line x1="696.5" y1="143" x2="696.5" y2="308.5" stroke="#333" stroke-width="1.3"/>
<line x1="679.3" y1="143" x2="697.5" y2="143" stroke="#333" stroke-width="1.4"/>
<line x1="680.8" y1="147.2" x2="696" y2="147.2" stroke="#333" stroke-width="1.3"/>
<line x1="679.3" y1="141.5" x2="679.3" y2="144" stroke="#555" stroke-width="1.2"/>
<line x1="697.5" y1="141.5" x2="697.5" y2="144" stroke="#555" stroke-width="1.2"/>
<path d="M681.5 142.6 C682.8 138.3 694 138.3 695.3 142.6" fill="none" stroke="#8a8a8a" stroke-width="1"/>
<rect x="114.9" y="155.5" width="10.6" height="15.8" fill="#fff" stroke="#222" stroke-width="1.1" rx="2"/>
<rect x="115.8" y="156.8" width="4.45" height="13.2" fill="#e2b81c" stroke="none" stroke-width="1" rx="1.2"/>
<rect x="683.1" y="156" width="10.5" height="15.5" fill="#fff" stroke="#222" stroke-width="1.1" rx="2"/>
<rect x="684" y="157.3" width="4.41" height="12.9" fill="#e2b81c" stroke="none" stroke-width="1" rx="1.2"/>
<rect x="128.2" y="153.5" width="2.8" height="16" fill="#111" stroke="none" stroke-width="1"/>
<rect x="131.2" y="157.7" width="4.8" height="6.6" fill="#fff" stroke="#111" stroke-width="2.4" rx="1.5"/>
<rect x="677.6" y="153.4" width="2.7" height="16.5" fill="#111" stroke="none" stroke-width="1"/>
<rect x="672.9" y="158.3" width="3.8" height="5.8" fill="#fff" stroke="#111" stroke-width="2.3" rx="1.2"/>
<line x1="128" y1="283.6" x2="128" y2="290" stroke="#111" stroke-width="2.2"/>
<line x1="680.8" y1="283.6" x2="680.8" y2="290" stroke="#222" stroke-width="1.8"/>
<rect x="104.1" y="308.5" width="30.4" height="6.5" fill="#fff" stroke="#2a2a2a" stroke-width="1.2" rx="1.5"/>
<line x1="112.9" y1="308.5" x2="112.9" y2="315" stroke="#333" stroke-width="1.1"/>
<line x1="127.5" y1="308.5" x2="127.5" y2="315" stroke="#333" stroke-width="1.1"/>
<path d="M104.3 315 L134.3 315 L154.3 325.7 L84.3 325.7 Z" fill="#fff" stroke="#2a2a2a" stroke-width="1.2"/>
<rect x="83.3" y="325.7" width="72" height="6.3" fill="#fff" stroke="#2a2a2a" stroke-width="1.2" rx="2.5"/>
<line x1="83.3" y1="325.9" x2="155.3" y2="325.9" stroke="#222" stroke-width="1.6"/>
<rect x="91.8" y="327.9" width="56" height="3" fill="#999" stroke="none" stroke-width="1"/>
<rect x="673.3" y="308.5" width="30.4" height="6.5" fill="#fff" stroke="#2a2a2a" stroke-width="1.2" rx="1.5"/>
<line x1="682.1" y1="308.5" x2="682.1" y2="315" stroke="#333" stroke-width="1.1"/>
<line x1="696.7" y1="308.5" x2="696.7" y2="315" stroke="#333" stroke-width="1.1"/>
<path d="M673.5 315 L703.5 315 L723.5 325.7 L653.5 325.7 Z" fill="#fff" stroke="#2a2a2a" stroke-width="1.2"/>
<rect x="652.5" y="325.7" width="72" height="6.3" fill="#fff" stroke="#2a2a2a" stroke-width="1.2" rx="2.5"/>
<line x1="652.5" y1="325.9" x2="724.5" y2="325.9" stroke="#222" stroke-width="1.6"/>
<rect x="661" y="327.9" width="56" height="3" fill="#999" stroke="none" stroke-width="1"/>
<line x1="680" y1="156" x2="755.3" y2="156" stroke="#1e1e1e" stroke-width="2"/>
<line x1="738.7" y1="156" x2="738.7" y2="192.5" stroke="#1e1e1e" stroke-width="1.9"/>
<line x1="738.7" y1="245" x2="738.7" y2="289" stroke="#1e1e1e" stroke-width="1.9"/>
<line x1="680" y1="289" x2="755.3" y2="289" stroke="#1e1e1e" stroke-width="2"/>
<line x1="277.7" y1="145.4" x2="296.6" y2="188.1" stroke="#1e1e1e" stroke-width="1.5"/>
<line x1="511.2" y1="136.9" x2="511.2" y2="159" stroke="#1e1e1e" stroke-width="1.6"/>
<line x1="397.8" y1="289.5" x2="397.8" y2="309.8" stroke="#1e1e1e" stroke-width="1.6"/>
<line x1="627" y1="344" x2="679.2" y2="319.7" stroke="#1e1e1e" stroke-width="1.8"/>
<text x="224.6" y="135.4" font-size="17.5" fill="#1a1a1a" stroke="#1a1a1a" stroke-width="0.25" textLength="39.6" lengthAdjust="spacingAndGlyphs">竖杆:</text>
<text x="270.6" y="136.5" font-size="19.8" fill="#1a1a1a" textLength="77.3" lengthAdjust="spacingAndGlyphs">50*30MM</text>
<text x="429.6" y="127.2" font-size="17.5" fill="#1a1a1a" stroke="#1a1a1a" stroke-width="0.25" textLength="54.6" lengthAdjust="spacingAndGlyphs">上横杆</text>
<text x="485.3" y="128.1" font-size="19.8" fill="#1a1a1a" textLength="127.4" lengthAdjust="spacingAndGlyphs">3000*55*40MM</text>
<text x="295.1" y="329.4" font-size="17.5" fill="#1a1a1a" stroke="#1a1a1a" stroke-width="0.25" textLength="54.1" lengthAdjust="spacingAndGlyphs">下横杆</text>
<text x="350.3" y="330.2" font-size="19.8" fill="#1a1a1a" textLength="127.7" lengthAdjust="spacingAndGlyphs">3000*55*30MM</text>
<text x="515.6" y="364.2" font-size="17.5" fill="#1a1a1a" stroke="#1a1a1a" stroke-width="0.25" textLength="40" lengthAdjust="spacingAndGlyphs">底座:</text>
<text x="562.2" y="365.1" font-size="19.8" fill="#1a1a1a" textLength="138.3" lengthAdjust="spacingAndGlyphs">330*250*130MM</text>
<text x="53.9" y="215.8" font-size="16.5" fill="#1a1a1a" stroke="#1a1a1a" stroke-width="0.2" textLength="33.6" lengthAdjust="spacingAndGlyphs">立柱</text>
<text x="38.5" y="236.2" font-size="17.6" fill="#1a1a1a" textLength="64.4" lengthAdjust="spacingAndGlyphs">1200MM</text>
<text x="720.2" y="216.6" font-size="16.5" fill="#1a1a1a" stroke="#1a1a1a" stroke-width="0.15" textLength="33.4" lengthAdjust="spacingAndGlyphs">片高</text>
<text x="708.8" y="236.5" font-size="17.6" fill="#1a1a1a" textLength="55.2" lengthAdjust="spacingAndGlyphs">900MM</text>
</g>
<rect x="32.2" y="858.7" width="176.6" height="48" fill="url(#tg)" stroke="none" stroke-width="1"/>
<text x="47.8" y="892.5" font-size="29.2" fill="#fff" stroke="#fff" stroke-width="0.5" textLength="56.8" lengthAdjust="spacingAndGlyphs">柱高</text>
<text x="106.6" y="893.9" font-size="31" fill="#fff" textLength="88.4" lengthAdjust="spacingAndGlyphs">120CM</text>
</svg>
</body></html>
